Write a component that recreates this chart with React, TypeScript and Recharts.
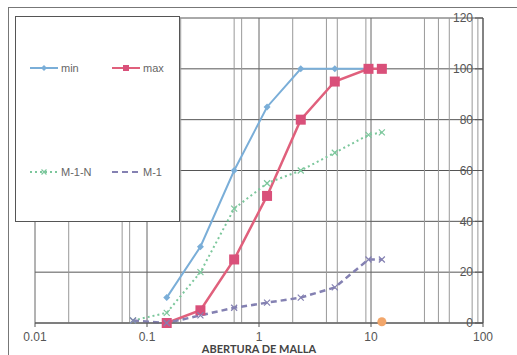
import React from 'react';
import {
  ComposedChart,
  Line,
  Scatter,
  XAxis,
  YAxis,
  CartesianGrid,
  ReferenceLine,
  Legend,
} from 'recharts';

// sieve openings (mm) and % passing
const minSieves = [0.15, 0.3, 0.6, 1.18, 2.36, 4.75, 9.5];
const minPass = [10, 30, 60, 85, 100, 100, 100];

const maxSieves = [0.15, 0.3, 0.6, 1.18, 2.36, 4.75, 9.5, 12.5];
const maxPass = [0, 5, 25, 50, 80, 95, 100, 100];

const m1nSieves = [0.075, 0.15, 0.3, 0.6, 1.18, 2.36, 4.75, 9.5, 12.5];
const m1nPass = [1, 4, 20, 45, 55, 60, 67, 74, 75];

const m1Sieves = [0.075, 0.15, 0.3, 0.6, 1.18, 2.36, 4.75, 9.5, 12.5];
const m1Pass = [1, 0, 3, 6, 8, 10, 14, 25, 25];

const extraSieves = [12.5];
const extraPass = [0.5];

const xTicks = [0.01, 0.1, 1, 10, 100];
const yTicks = [0, 20, 40, 60, 80, 100, 120];
const minorGrid = [0.02, 0.06, 0.07, 0.2, 0.6, 0.7, 2, 4, 5, 9, 30, 40, 50, 80, 90];

const toPoints = (xs: number[], ys: number[]) => xs.map((x, i) => ({ x, y: ys[i] }));

const minData = toPoints(minSieves, minPass);
const maxData = toPoints(maxSieves, maxPass);
const m1nData = toPoints(m1nSieves, m1nPass);
const m1Data = toPoints(m1Sieves, m1Pass);
const extraData = toPoints(extraSieves, extraPass);

const BLUE = '#7aaed8';
const RED = '#e0607c';
const RED_MARK = '#d9507a';
const GREEN = '#7cc79c';
const PURPLE = '#8481b2';

const Diamond = (props: any) => {
  const { cx, cy } = props;
  if (cx == null || cy == null) return null;
  return <path d={`M${cx},${cy - 3.5}L${cx + 3.5},${cy}L${cx},${cy + 3.5}L${cx - 3.5},${cy}Z`} fill={BLUE} />;
};

const Square = (props: any) => {
  const { cx, cy } = props;
  if (cx == null || cy == null) return null;
  return <rect x={cx - 5} y={cy - 5} width={10} height={10} fill={RED_MARK} />;
};

const makeCross = (color: string) => (props: any) => {
  const { cx, cy } = props;
  if (cx == null || cy == null) return null;
  return (
    <path
      d={`M${cx - 3},${cy - 3}L${cx + 3},${cy + 3}M${cx - 3},${cy + 3}L${cx + 3},${cy - 3}`}
      stroke={color}
      strokeWidth={1.2}
      fill="none"
    />
  );
};

const legendItems = [
  { name: 'min', color: BLUE, dash: undefined, mark: 'diamond', left: 14, top: 45 },
  { name: 'max', color: RED, dash: undefined, mark: 'square', left: 96, top: 45 },
  { name: 'M-1-N', color: GREEN, dash: '2 3', mark: 'cross', left: 14, top: 149 },
  { name: 'M-1', color: PURPLE, dash: '6 4', mark: 'none', left: 96, top: 149 },
];

function LegendBox() {
  return (
    <div
      style={{
        position: 'relative',
        width: 165,
        height: 206,
        background: '#fff',
        border: '1px solid #555',
        boxSizing: 'border-box',
      }}
    >
      {legendItems.map((it) => (
        <div
          key={it.name}
          style={{
            position: 'absolute',
            left: it.left,
            top: it.top,
            display: 'flex',
            alignItems: 'center',
            fontFamily: '"Liberation Sans", Arial, sans-serif',
            fontSize: 11,
            color: '#666',
          }}
        >
          <svg width={28} height={10}>
            <line x1={0} y1={5} x2={28} y2={5} stroke={it.color} strokeWidth={2} strokeDasharray={it.dash} />
            {it.mark === 'diamond' && <path d="M14,2L17,5L14,8L11,5Z" fill={it.color} />}
            {it.mark === 'square' && <rect x={11} y={2} width={6} height={6} fill={RED_MARK} />}
            {it.mark === 'cross' && (
              <path d="M11.5,2.5L16.5,7.5M11.5,7.5L16.5,2.5" stroke={it.color} strokeWidth={1.2} />
            )}
          </svg>
          <span style={{ marginLeft: 3 }}>{it.name}</span>
        </div>
      ))}
    </div>
  );
}

export default function App() {
  return (
    <div style={{ position: 'absolute', left: 0, top: 0, width: 517, height: 355, background: '#fff' }}>
      <div style={{ position: 'absolute', left: 8, top: 7, width: 509, height: 1, background: '#777' }} />
      <div style={{ position: 'absolute', left: 8, top: 7, width: 1, height: 348, background: '#777' }} />
      <ComposedChart
        width={517}
        height={355}
        margin={{ top: 18, right: 34, bottom: 0, left: 35 }}
        style={{ fontFamily: '"Liberation Sans", Arial, sans-serif' }}
      >
        <CartesianGrid vertical={false} horizontalValues={yTicks} stroke="#555" strokeWidth={1} />
        {minorGrid.map((v) => (
          <ReferenceLine key={`m${v}`} x={v} stroke="#999" strokeWidth={1} ifOverflow="hidden" />
        ))}
        {xTicks.map((v) => (
          <ReferenceLine key={`M${v}`} x={v} stroke="#666" strokeWidth={1} />
        ))}
        <XAxis
          type="number"
          dataKey="x"
          scale="log"
          domain={[0.01, 100]}
          ticks={xTicks}
          allowDataOverflow
          height={32}
          tick={{ fill: '#555', fontSize: 12 }}
          tickLine={{ stroke: '#555' }}
          tickSize={4}
          tickMargin={5}
          axisLine={{ stroke: '#555' }}
          label={{
            value: 'ABERTURA DE MALLA',
            position: 'insideBottom',
            offset: 2,
            fill: '#444',
            fontSize: 11,
            fontWeight: 700,
            fontFamily: 'Lato, sans-serif',
          }}
        />
        <YAxis
          type="number"
          dataKey="y"
          orientation="right"
          mirror
          domain={[0, 120]}
          ticks={yTicks}
          tick={{ fill: '#555', fontSize: 12 }}
          tickLine={{ stroke: '#555' }}
          tickSize={8}
          axisLine={{ stroke: '#555' }}
        />
        <Legend
          layout="horizontal"
          verticalAlign="middle"
          align="center"
          content={() => <LegendBox />}
          wrapperStyle={{ left: 15, top: 16, width: 165, height: 206 }}
        />
        <Line
          data={minData}
          dataKey="y"
          name="min"
          stroke={BLUE}
          strokeWidth={2}
          dot={<Diamond />}
          activeDot={false}
          isAnimationActive={false}
        />
        <Line
          data={maxData}
          dataKey="y"
          name="max"
          stroke={RED}
          strokeWidth={2.5}
          dot={<Square />}
          activeDot={false}
          isAnimationActive={false}
        />
        <Line
          data={m1nData}
          dataKey="y"
          name="M-1-N"
          stroke={GREEN}
          strokeWidth={2}
          strokeDasharray="2 3"
          dot={makeCross(GREEN)}
          activeDot={false}
          isAnimationActive={false}
        />
        <Line
          data={m1Data}
          dataKey="y"
          name="M-1"
          stroke={PURPLE}
          strokeWidth={2.5}
          strokeDasharray="6 4"
          dot={makeCross(PURPLE)}
          activeDot={false}
          isAnimationActive={false}
        />
        <Scatter
          data={extraData}
          dataKey="y"
          fill="#f2a66a"
          shape="circle"
          legendType="none"
          isAnimationActive={false}
        />
      </ComposedChart>
    </div>
  );
}
